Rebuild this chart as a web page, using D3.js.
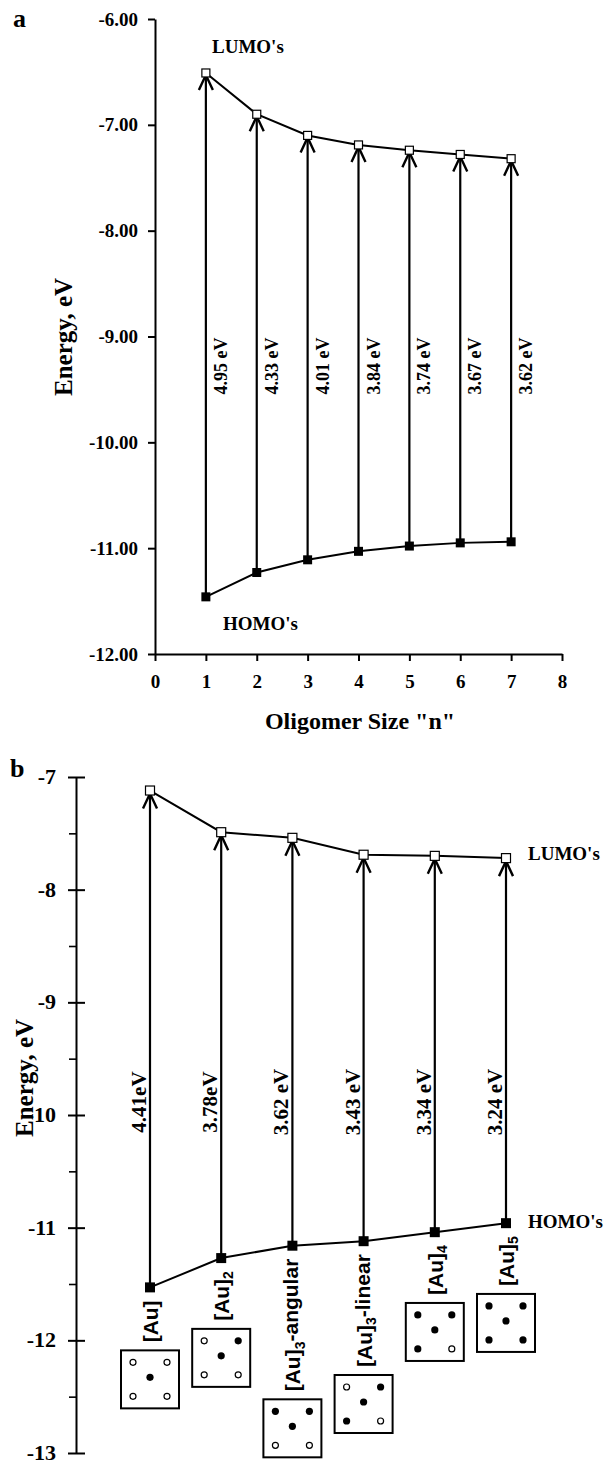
<!DOCTYPE html>
<html>
<head>
<meta charset="utf-8">
<script src="https://cdn.jsdelivr.net/npm/d3@7"></script>
<style>
  body { margin: 0; background: #fff; }
  svg text { font-family: "Liberation Serif", "Times New Roman", serif; font-weight: bold; fill: #000; }
  svg text.cluster { font-family: "Liberation Sans", Arial, sans-serif; }
</style>
</head>
<body>
<svg id="fig" width="607" height="1464"></svg>
<script>
// ---- Panel a: oligomer series ----
const oligomerSizes = [1, 2, 3, 4, 5, 6, 7];
const homoA = [-11.46, -11.23, -11.11, -11.03, -10.98, -10.95, -10.94];
const lumoA = [-6.51, -6.90, -7.10, -7.19, -7.24, -7.28, -7.32];
const gapLabelsA = ["4.95 eV", "4.33 eV", "4.01 eV", "3.84 eV", "3.74 eV", "3.67 eV", "3.62 eV"];
const xTicksA = [0, 1, 2, 3, 4, 5, 6, 7, 8];
const yTicksA = [-6, -7, -8, -9, -10, -11, -12];

// ---- Panel b: gold clusters ----
const clusterIds = ["Au", "Au2", "Au3a", "Au3l", "Au4", "Au5"];
const clusterBase = ["[Au]", "[Au]", "[Au]", "[Au]", "[Au]", "[Au]"];
const clusterSub = ["", "2", "3", "3", "4", "5"];
const clusterSuffix = ["", "", "-angular", "-linear", "", ""];
const homoB = [-11.53, -11.27, -11.16, -11.12, -11.04, -10.96];
const lumoB = [-7.12, -7.49, -7.54, -7.69, -7.70, -7.72];
const gapLabelsB = ["4.41eV", "3.78eV", "3.62 eV", "3.43 eV", "3.34 eV", "3.24 eV"];
// site occupancy: top-left, top-right, centre, bottom-left, bottom-right (1 = filled)
const clusterSites = [
  [0, 0, 1, 0, 0],
  [0, 1, 1, 0, 0],
  [1, 1, 1, 0, 0],
  [0, 1, 1, 1, 0],
  [1, 1, 1, 1, 0],
  [1, 1, 1, 1, 1]
];
const yTicksB = [-7, -8, -9, -10, -11, -12, -13];
const yMinorB = [-7.5, -8.5, -9.5, -10.5, -11.5, -12.5];

const svg = d3.select("#fig");

function styleAxis(g, size) {
  g.attr("font-family", null).attr("font-size", null);
  g.selectAll("text").style("font-size", size + "px");
  g.selectAll("path.domain").attr("stroke-width", 2);
  g.selectAll(".tick line").attr("stroke-width", 2);
}

function arrowHead(x, yTip) {
  return `M${x - 7},${yTip + 15} L${x},${yTip} L${x + 7},${yTip + 15}`;
}

// ================= Panel a =================
{
  const x = d3.scaleLinear().domain([0, 8]).range([155, 562]);
  const y = d3.scaleLinear().domain([-12, -6]).range([654, 19]);
  const g = svg.append("g");

  g.append("g").attr("transform", "translate(155,0)")
    .call(d3.axisLeft(y).tickValues(yTicksA).tickFormat(d => d.toFixed(2)).tickSize(7).tickPadding(10).tickSizeOuter(0))
    .call(a => styleAxis(a, 19));

  g.append("g").attr("transform", "translate(0,654)")
    .call(d3.axisBottom(x).tickValues(xTicksA).tickFormat(d => d).tickSize(7).tickPadding(14).tickSizeOuter(0))
    .call(a => styleAxis(a, 19));

  g.append("text").attr("x", 13).attr("y", 27).style("font-size", "26px").text("a");
  g.append("text").attr("x", 360).attr("y", 729).attr("text-anchor", "middle")
    .style("font-size", "24px").text('Oligomer Size "n"');
  g.append("text").attr("transform", "translate(72,337) rotate(-90)").attr("text-anchor", "middle")
    .style("font-size", "25px").text("Energy, eV");

  // gap arrows
  oligomerSizes.forEach((n, i) => {
    const xi = x(n);
    g.append("line").attr("x1", xi).attr("x2", xi).attr("y1", y(homoA[i])).attr("y2", y(lumoA[i]) + 2)
      .attr("stroke", "#000").attr("stroke-width", 2.2);
    g.append("path").attr("d", arrowHead(xi, y(lumoA[i]) + 2))
      .attr("fill", "none").attr("stroke", "#000").attr("stroke-width", 2.4);
    g.append("text").attr("transform", `translate(${xi + 21},${y(-9) + 1}) rotate(-90)`)
      .attr("text-anchor", "end").style("font-size", "18px").text(gapLabelsA[i]);
  });

  const line = d3.line().x((d, i) => x(oligomerSizes[i])).y(d => y(d));
  g.append("path").attr("d", line(lumoA)).attr("fill", "none").attr("stroke", "#000").attr("stroke-width", 2);
  g.append("path").attr("d", line(homoA)).attr("fill", "none").attr("stroke", "#000").attr("stroke-width", 2);

  g.selectAll("rect.lumo").data(lumoA).join("rect")
    .attr("x", (d, i) => x(oligomerSizes[i]) - 4).attr("y", d => y(d) - 4)
    .attr("width", 8).attr("height", 8).attr("fill", "#fff").attr("stroke", "#000").attr("stroke-width", 1.2);
  g.selectAll("rect.homo").data(homoA).join("rect")
    .attr("x", (d, i) => x(oligomerSizes[i]) - 4.5).attr("y", d => y(d) - 4.5)
    .attr("width", 9).attr("height", 9).attr("fill", "#000");

  g.append("text").attr("x", 212).attr("y", 53).style("font-size", "19px").text("LUMO's");
  g.append("text").attr("x", 223).attr("y", 630).style("font-size", "19px").text("HOMO's");
}

// ================= Panel b =================
{
  const x = d3.scalePoint().domain(clusterIds).range([150, 506]);
  const y = d3.scaleLinear().domain([-13, -7]).range([1453, 777]);
  const g = svg.append("g");

  const ax = g.append("g").attr("transform", "translate(76,0)")
    .call(d3.axisLeft(y).tickValues(yTicksB).tickFormat(d => String(d)).tickSize(8).tickPadding(12).tickSizeOuter(0))
    .call(a => styleAxis(a, 22));
  ax.selectAll(".tick line").attr("x1", 9);
  ax.selectAll(".tick text").attr("dy", "0.3em");
  g.append("g").attr("transform", "translate(76,0)")
    .call(d3.axisLeft(y).tickValues(yMinorB).tickFormat("").tickSize(7).tickSizeOuter(0))
    .call(a => { a.select(".domain").remove(); a.selectAll(".tick line").attr("stroke-width", 1.6); });

  g.append("text").attr("x", 10).attr("y", 777).style("font-size", "26px").text("b");
  g.append("text").attr("transform", "translate(33,1078) rotate(-90)").attr("text-anchor", "middle")
    .style("font-size", "25px").text("Energy, eV");

  clusterIds.forEach((id, i) => {
    const xi = x(id);
    g.append("line").attr("x1", xi).attr("x2", xi).attr("y1", y(homoB[i])).attr("y2", y(lumoB[i]) + 3)
      .attr("stroke", "#000").attr("stroke-width", 2.2);
    g.append("path").attr("d", arrowHead(xi, y(lumoB[i]) + 3))
      .attr("fill", "none").attr("stroke", "#000").attr("stroke-width", 2.4);
    g.append("text").attr("transform", `translate(${xi - 4},1102) rotate(-90)`)
      .attr("text-anchor", "middle").style("font-size", "21px").text(gapLabelsB[i]);
  });

  const line = d3.line().x((d, i) => x(clusterIds[i])).y(d => y(d));
  g.append("path").attr("d", line(lumoB)).attr("fill", "none").attr("stroke", "#000").attr("stroke-width", 2);
  g.append("path").attr("d", line(homoB)).attr("fill", "none").attr("stroke", "#000").attr("stroke-width", 2);

  g.selectAll("rect.lumo").data(lumoB).join("rect")
    .attr("x", (d, i) => x(clusterIds[i]) - 4.5).attr("y", d => y(d) - 4.5)
    .attr("width", 9).attr("height", 9).attr("fill", "#fff").attr("stroke", "#000").attr("stroke-width", 1.2);
  g.selectAll("rect.homo").data(homoB).join("rect")
    .attr("x", (d, i) => x(clusterIds[i]) - 5).attr("y", d => y(d) - 5)
    .attr("width", 10).attr("height", 10).attr("fill", "#000");

  g.append("text").attr("x", 528).attr("y", 860).style("font-size", "19px").text("LUMO's");
  g.append("text").attr("x", 528).attr("y", 1228).style("font-size", "19px").text("HOMO's");

  // cluster names below each HOMO level, with a site diagram under each name
  const boxSize = 58, off = 17;
  const sitePos = [[-off, -off], [off, -off], [0, -2], [-off, off], [off, off]];
  clusterIds.forEach((id, i) => {
    const xi = x(id);
    const top = y(homoB[i]) + 13;
    const t = g.append("text").attr("class", "cluster")
      .attr("transform", `translate(${xi + 8},${top}) rotate(-90)`)
      .attr("text-anchor", "end").style("font-size", "21px");
    t.append("tspan").text(clusterBase[i]);
    if (clusterSub[i]) t.append("tspan").attr("dy", "0.3em").style("font-size", "14px").text(clusterSub[i]);
    if (clusterSuffix[i]) t.append("tspan").attr("dy", "-0.3em").text(clusterSuffix[i]);
    const len = t.node().getComputedTextLength();
    const boxTop = top + len + 8;
    const cx = xi, cy = boxTop + boxSize / 2;
    g.append("rect").attr("x", cx - boxSize / 2).attr("y", boxTop).attr("width", boxSize).attr("height", boxSize)
      .attr("fill", "#fff").attr("stroke", "#000").attr("stroke-width", 2);
    clusterSites[i].forEach((filled, k) => {
      g.append("circle").attr("cx", cx + sitePos[k][0]).attr("cy", cy + sitePos[k][1])
        .attr("r", filled ? 3.6 : 3)
        .attr("fill", filled ? "#000" : "#fff").attr("stroke", "#000").attr("stroke-width", filled ? 0 : 1.2);
    });
  });
}
</script>
</body>
</html>
